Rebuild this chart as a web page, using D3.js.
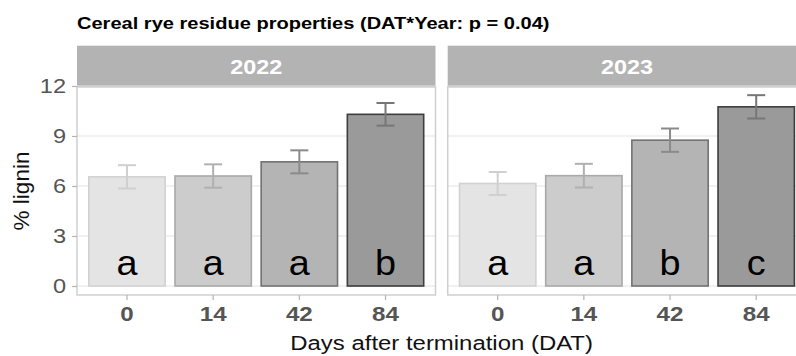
<!DOCTYPE html>
<html>
<head>
<meta charset="utf-8">
<script src="https://cdn.jsdelivr.net/npm/d3@7"></script>
<style>
  html, body { margin: 0; padding: 0; background: #fff; }
  svg { display: block; font-family: "Liberation Sans", Arial, Helvetica, sans-serif; }
</style>
</head>
<body>
<svg id="chart" width="796" height="356"></svg>
<script>
// Cereal rye residue lignin content by days after termination, faceted by year
const years = ["2022", "2023"];
const datLevels = ["0", "14", "42", "84"];
const lignin2022 = [6.55, 6.6, 7.45, 10.3];
const se2022 = [0.7, 0.7, 0.69, 0.68];
const lignin2023 = [6.15, 6.62, 8.75, 10.75];
const se2023 = [0.69, 0.71, 0.7, 0.7];
const letters2022 = ["a", "a", "a", "b"];
const letters2023 = ["a", "a", "b", "c"];
const yTicks = [0, 3, 6, 9, 12];

// greys per DAT level
const fillCol = ["#e4e4e4", "#cccccc", "#b4b4b4", "#9a9a9a"];
const strokeCol = ["#d2d2d2", "#a9a9a9", "#727272", "#3d3d3d"];
const errCol = ["#d0d0d0", "#b0b0b0", "#8a8a8a", "#777777"];

const panels = [
  { year: years[0], values: lignin2022, se: se2022, letters: letters2022, x0: 77, x1: 435.5 },
  { year: years[1], values: lignin2023, se: se2023, letters: letters2023, x0: 447.7, x1: 806.2 }
];

const svg = d3.select("#chart");
const panelTop = 87, panelBottom = 295;
const stripTop = 45.7;
const SX = 1.15; // horizontal widening of the text glyphs

const y = d3.scaleLinear().domain([-0.54, 11.94]).range([panelBottom, panelTop]);

// text placed at (x, y) and widened horizontally
function wideText(parent, x, yPos, str, sx) {
  return parent.append("text")
    .attr("transform", `translate(${x},${yPos}) scale(${sx},1)`)
    .text(str);
}

// title
wideText(svg, 77, 28.5, "Cereal rye residue properties (DAT*Year: p = 0.04)", 1.18)
  .attr("font-size", 17).attr("font-weight", "bold").attr("fill", "#000");

panels.forEach((p, pi) => {
  const x = d3.scaleBand().domain(datLevels).range([p.x0, p.x1])
    .paddingInner(0.1).paddingOuter(0.13);
  const g = svg.append("g");

  // strip
  g.append("rect")
    .attr("x", p.x0).attr("y", stripTop)
    .attr("width", p.x1 - p.x0).attr("height", panelTop - stripTop)
    .attr("fill", "#b3b3b3");
  wideText(g, (p.x0 + p.x1) / 2, 73.5, p.year, 1.2)
    .attr("text-anchor", "middle")
    .attr("font-size", 19.5).attr("font-weight", "bold").attr("fill", "#fff");

  // horizontal grid lines
  g.selectAll("line.grid").data(yTicks).join("line")
    .attr("class", "grid")
    .attr("x1", p.x0).attr("x2", p.x1)
    .attr("y1", d => y(d)).attr("y2", d => y(d))
    .attr("stroke", "#e4e4e4").attr("stroke-width", 1.2);

  const rows = datLevels.map((d, i) => ({ dat: d, v: p.values[i], se: p.se[i], lab: p.letters[i], i }));
  const cx = d => x(d.dat) + x.bandwidth() / 2;

  // bars
  g.selectAll("rect.bar").data(rows).join("rect")
    .attr("class", "bar")
    .attr("x", d => x(d.dat) + 0.6)
    .attr("width", x.bandwidth() - 1.2)
    .attr("y", d => y(d.v))
    .attr("height", d => y(0) - y(d.v))
    .attr("fill", d => fillCol[d.i])
    .attr("stroke", d => strokeCol[d.i])
    .attr("stroke-width", 1.6);

  // error bars
  const capHalf = 9;
  const eb = g.selectAll("g.err").data(rows).join("g").attr("class", "err")
    .attr("stroke", d => errCol[d.i]).attr("stroke-width", 2).attr("fill", "none");
  eb.append("line")
    .attr("x1", cx).attr("x2", cx)
    .attr("y1", d => y(d.v - d.se)).attr("y2", d => y(d.v + d.se));
  eb.append("line")
    .attr("x1", d => cx(d) - capHalf).attr("x2", d => cx(d) + capHalf)
    .attr("y1", d => y(d.v + d.se)).attr("y2", d => y(d.v + d.se));
  eb.append("line")
    .attr("x1", d => cx(d) - capHalf).attr("x2", d => cx(d) + capHalf)
    .attr("y1", d => y(d.v - d.se)).attr("y2", d => y(d.v - d.se));

  // significance letters
  rows.forEach(d => {
    wideText(g, cx(d), y(0.66), d.lab, 1.08)
      .attr("text-anchor", "middle")
      .attr("font-size", 35).attr("fill", "#000");
  });

  // panel border
  g.append("rect")
    .attr("x", p.x0).attr("y", panelTop)
    .attr("width", p.x1 - p.x0).attr("height", panelBottom - panelTop)
    .attr("fill", "none").attr("stroke", "#cfcfcf").attr("stroke-width", 1.5);

  // x axis
  const xAxis = g.append("g")
    .attr("transform", `translate(0,${panelBottom})`)
    .call(d3.axisBottom(x).tickSize(5).tickPadding(6));
  xAxis.select(".domain").remove();
  xAxis.selectAll(".tick line").attr("stroke", "#b3b3b3").attr("stroke-width", 1.2);
  xAxis.selectAll(".tick text")
    .attr("font-size", 21).attr("font-weight", "bold").attr("fill", "#555")
    .attr("font-family", "Liberation Sans, Arial, sans-serif")
    .attr("transform", `scale(${SX},1)`);

  // y axis on first panel only
  if (pi === 0) {
    const yAxis = g.append("g")
      .attr("transform", `translate(${p.x0},0)`)
      .call(d3.axisLeft(y).tickValues(yTicks).tickSize(5).tickPadding(5));
    yAxis.select(".domain").remove();
    yAxis.selectAll(".tick line").attr("stroke", "#b3b3b3").attr("stroke-width", 1.2);
    yAxis.selectAll(".tick text")
      .attr("font-size", 20.5).attr("fill", "#555")
      .attr("font-family", "Liberation Sans, Arial, sans-serif")
      .attr("x", -11 / SX)
      .attr("transform", `scale(${SX},1)`);
  }
});

// axis titles
wideText(svg, (panels[0].x0 + panels[1].x1) / 2, 350, "Days after termination (DAT)", 1.14)
  .attr("text-anchor", "middle")
  .attr("font-size", 21).attr("fill", "#111");

svg.append("text")
  .attr("transform", `translate(29,${(panelTop + panelBottom) / 2}) rotate(-90)`)
  .attr("text-anchor", "middle")
  .attr("font-size", 22.5).attr("fill", "#111")
  .text("% lignin");
</script>
</body>
</html>
